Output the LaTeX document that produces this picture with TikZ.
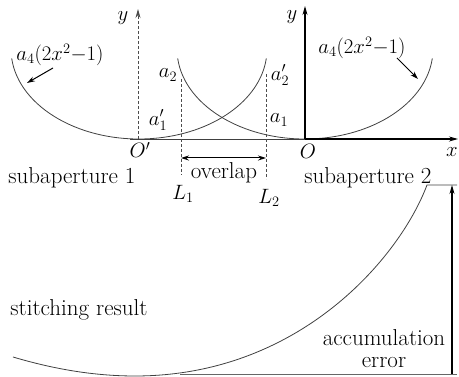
\documentclass[tikz,border=0pt]{standalone}
\usetikzlibrary{arrows.meta}
\begin{document}
\begin{tikzpicture}[x=1pt,y=1pt,
  txt/.style={font=\fontsize{23}{25}\selectfont, inner sep=0pt},
  mtxt/.style={font=\fontsize{20}{22}\selectfont, inner sep=0pt},
  curve/.style={draw=black!75, line width=0.8pt},
  axis/.style={draw=black, line width=1.1pt, -{Stealth[length=9pt,width=5pt]}},
  daxis/.style={draw=black!70, line width=0.8pt, dashed, dash pattern=on 3pt off 2pt, -{Stealth[length=9pt,width=5pt]}},
  dline/.style={draw=black!70, line width=0.7pt, dash pattern=on 3pt off 2pt},
  pointer/.style={draw=black, line width=1pt, -{Stealth[length=8pt,width=5pt]}}]
\useasboundingbox (0,0) rectangle (459,377);
% coordinates
\coordinate (Op) at (138,238);
\coordinate (Ov) at (305,238);
\coordinate (xs) at (130,238);
\coordinate (xe) at (458,238);
\coordinate (ypt) at (138,368);
\coordinate (yt) at (305,371);
\coordinate (L1t) at (181,298);
\coordinate (L1b) at (181,202);
\coordinate (L2t) at (266,303);
\coordinate (L2b) at (266,198);
\coordinate (ovl) at (181,219);
\coordinate (ovr) at (266,219);
% parabolas (sub-apertures)
\draw[curve] (139,328) ++(186:128pt and 90pt) arc[start angle=186, end angle=354, x radius=128pt, y radius=90pt];
\draw[curve] (305,328) ++(186:128pt and 90pt) arc[start angle=186, end angle=354, x radius=128pt, y radius=90pt];
% axes
\draw[curve] (xs) -- (Ov);
\draw[axis] (Ov) -- (xe);
\draw[axis] (Ov) -- (yt);
\draw[daxis] (Op) -- (ypt);
% dashed L lines
\draw[dline] (L1t) -- (L1b);
\draw[dline] (L2t) -- (L2b);
\draw[draw=black, line width=1pt, {Stealth[length=8pt,width=5pt]}-{Stealth[length=8pt,width=5pt]}] (ovl) -- (ovr);
% labels
\node[mtxt] (ly1) at (123,359) {$y$};
\node[mtxt] (ly2) at (292,360) {$y$};
\node[mtxt] (lx) at (452,225) {$x$};
\node[mtxt] (lOp) at (140,227) {$O'$};
\node[mtxt] (lO) at (308,226) {$O$};
\node[mtxt] (la2) at (168,302) {$a_2$};
\node[mtxt] (la2p) at (280,302) {$a_2'$};
\node[mtxt] (la1p) at (158,257) {$a_1'$};
\node[mtxt] (la1) at (279,257) {$a_1$};
\node[mtxt] (lL1) at (183,183) {$L_1$};
\node[mtxt] (lL2) at (269,179) {$L_2$};
\node[txt] (ovt) at (224,204) {overlap};
\node[txt] (s1) at (72,199) {subaperture 1};
\node[txt] (s2) at (368,199) {subaperture 2};
\node[mtxt] (f1) at (60,322) {$a_4(2x^2{-}1)$};
\node[mtxt] (f2) at (362,329) {$a_4(2x^2{-}1)$};
\coordinate (p1s) at (53,309);
\coordinate (p1e) at (27,294);
\coordinate (p2s) at (397,319);
\coordinate (p2e) at (418,298);
\draw[pointer] (p1s) -- (p1e);
\draw[pointer] (p2s) -- (p2e);
% stitching result
\node[txt] (sr) at (79,67) {stitching result};
\node[txt, align=center] (ae) at (384,28) {accumulation\\[-3pt]error};
\coordinate (cs) at (13,20);
\coordinate (cm) at (135,1);
\coordinate (ct) at (427,192);
\coordinate (te) at (457,192);
\coordinate (bs) at (180,3);
\coordinate (be) at (457,3);
\coordinate (ab) at (452,3);
\coordinate (at) at (452,192);
\draw[curve] (cs) .. controls (60,6) and (100,1) .. (cm) .. controls (300,1) and (400,120) .. (ct) -- (te);
\draw[draw=black!60, line width=0.8pt] (bs) -- (be);
\draw[draw=black, line width=1.1pt, -{Stealth[length=9pt,width=5pt]}] (ab) -- (at);
\end{tikzpicture}
\end{document}
